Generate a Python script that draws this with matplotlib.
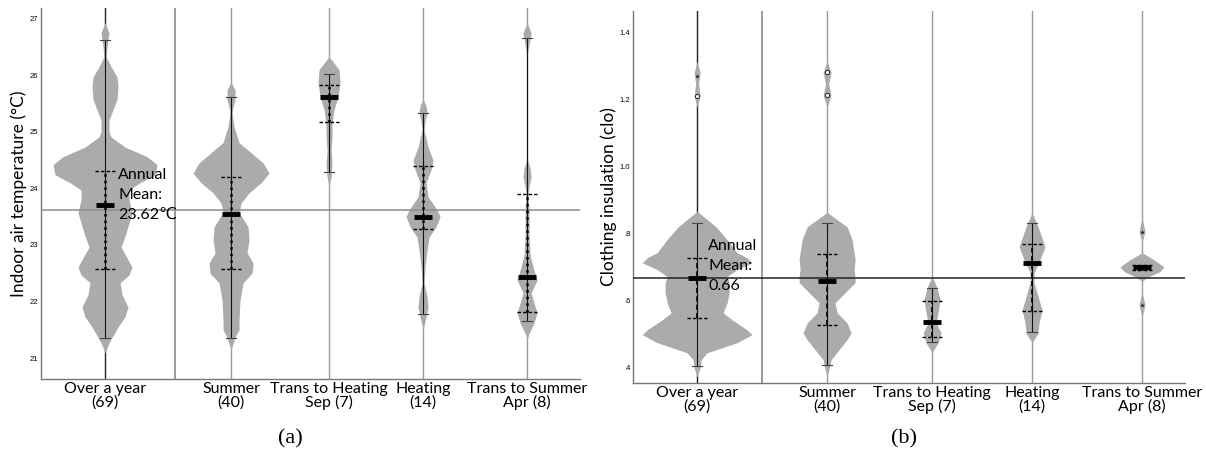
import numpy as np
import matplotlib
matplotlib.use("Agg")
import matplotlib.pyplot as plt

plt.rcParams['font.family'] = ['Lato', 'DejaVu Sans']

### Categories ###
cats = ["Over a year\n(69)", "Summer\n(40)", "Trans to Heating\nSep (7)",
        "Heating\n(14)", "Trans to Summer\nApr (8)"]
pos_a = [0, 1.26, 2.24, 3.18, 4.22]
pos_b = [0, 1.30, 2.35, 3.35, 4.45]

### (a) indoor air temperature: violin outlines (value, half width) ###
ta_over_y = [26.93, 26.75, 26.63, 26.50, 26.33, 26.15, 25.97, 25.80, 25.57, 25.39, 25.21,
             25.00, 24.91, 24.73, 24.56, 24.42, 24.24, 24.10, 23.97, 23.80, 23.57, 23.21,
             22.96, 22.77, 22.61, 22.47, 22.33, 22.12, 21.90, 21.73, 21.55, 21.27, 21.09]
ta_over_w = [0, 4, 3, 2, 1, 6, 12, 13, 12, 8, 4, 4, 6, 20, 42, 52, 50, 35, 24, 24, 27, 21,
             16, 22, 27, 24, 15, 17, 23, 20, 13, 4, 0]
ta_summer_y = [25.88, 25.74, 25.57, 25.44, 25.34, 25.09, 24.81, 24.63, 24.45, 24.27, 24.10,
               23.92, 23.74, 23.57, 23.32, 23.09, 22.86, 22.68, 22.50, 22.33, 22.03, 21.67,
               21.50, 21.37, 21.14]
ta_summer_w = [0, 4, 4, 2, 1, 3, 8, 20, 32, 38, 30, 18, 10, 8, 17, 18, 16, 22, 21, 12, 9, 8,
               8, 4, 0]
ta_theat_y = [26.33, 26.10, 25.87, 25.62, 25.39, 25.16, 24.91, 24.68, 24.45, 24.20, 24.03]
ta_theat_w = [0, 10, 11, 9, 5, 3, 3, 2, 3, 2, 0]
ta_heat_y = [25.58, 25.46, 25.34, 25.18, 25.04, 24.73, 24.50, 24.33, 24.10, 23.85, 23.62,
             23.50, 23.32, 23.14, 22.91, 22.61, 22.33, 22.08, 21.90, 21.73, 21.50]
ta_heat_w = [0, 3, 4, 2, 1, 5, 10, 8, 3, 5, 14, 17, 13, 6, 4, 2, 1, 4, 5, 3, 0]
ta_tsum_y = [26.93, 26.75, 26.63, 26.40, 24.50, 24.36, 24.20, 24.03, 23.88, 23.62, 23.14,
             22.82, 22.61, 22.38, 22.15, 21.97, 21.80, 21.62, 21.44, 21.32]
ta_tsum_w = [0, 4, 3, 0.5, 0.5, 3, 4, 2, 1, 2, 2, 3, 6, 10, 4, 7, 10, 7, 2, 0]

cap_hi_a = [26.63, 25.62, 26.03, 25.34, 26.65]
cap_lo_a = [21.35, 21.35, 24.29, 21.78, 21.65]
q3_a = [24.30, 24.20, 25.83, 24.40, 23.90]
q1_a = [22.57, 22.58, 25.18, 23.28, 21.81]
med_a = [23.70, 23.55, 25.62, 23.50, 22.43]
mean_a = 23.62

### (b) clothing insulation ###
clo_over_y = [1.313, 1.28, 1.245, 1.21, 1.176, 0.866, 0.82, 0.782, 0.743, 0.728, 0.713, 0.693,
              0.672, 0.654, 0.624, 0.594, 0.564, 0.543, 0.513, 0.499, 0.475, 0.445, 0.424,
              0.40, 0.373]
clo_over_w = [0, 3, 1.5, 3, 0, 0, 19, 30, 40, 50, 55, 40, 30, 32, 32, 30, 26, 35, 50, 55, 40,
              10, 4, 3, 0]
clo_summer_y = [1.313, 1.28, 1.245, 1.212, 1.176, 0.863, 0.82, 0.782, 0.743, 0.722, 0.693,
                0.672, 0.654, 0.624, 0.594, 0.564, 0.534, 0.504, 0.484, 0.454, 0.424, 0.409,
                0.373]
clo_summer_w = [0, 4, 1.5, 4, 0, 0, 20, 25, 27, 28, 27, 28, 28, 18, 8, 10, 20, 24, 20, 12, 4,
                3, 0]
clo_theat_y = [0.672, 0.639, 0.603, 0.564, 0.534, 0.504, 0.475, 0.445]
clo_theat_w = [0, 5, 8, 6, 4, 9, 6, 0]
clo_heat_y = [0.863, 0.82, 0.761, 0.722, 0.684, 0.654, 0.612, 0.573, 0.534, 0.504, 0.475]
clo_heat_w = [0, 6, 13, 8, 2, 2, 6, 10, 7, 6, 0]
clo_tsum_y = [0.848, 0.806, 0.773, 0.743, 0.722, 0.701, 0.687, 0.669, 0.657, 0.627, 0.588,
              0.549]
clo_tsum_w = [0, 3, 0, 0, 12, 22, 18, 5, 0, 0, 3, 0]

cap_hi_b = [0.83, 0.83, 0.639, 0.83, 0.705]
cap_lo_b = [0.406, 0.41, 0.478, 0.507, 0.69]
q3_b = [0.728, 0.74, 0.60, 0.77, 0.705]
q1_b = [0.549, 0.528, 0.493, 0.57, 0.69]
med_b = [0.669, 0.66, 0.537, 0.713, 0.70]
mean_b = 0.667

# outliers (circles) and extremes (stars)
out_x = [0, 1, 1]
out_y = [1.21, 1.28, 1.212]
ext_x = [0, 4, 4]
ext_y = [1.27, 0.806, 0.588]

fill_col = '#ababab'


def draw_panel(ax, pos, profiles, cap_hi, cap_lo, q3, q1, med, mean, mean_col,
               iqr_style, ylim, xlim, divider):
    for ii, x in enumerate(pos):
        ax.axvline(x, color='#222222' if ii == 0 else '#9a9a9a', lw=1.0, zorder=1)
    ax.axvline(divider, color='#8a8a8a', lw=1.2, zorder=1)
    for ii, (y, w) in enumerate(profiles):
        w = np.array(w) / 100.0
        ax.fill_betweenx(y, pos[ii] - w, pos[ii] + w, color=fill_col, lw=0, zorder=2)
    ax.axhline(mean, color=mean_col, lw=1.1, zorder=3)
    for ii, x in enumerate(pos):
        ax.plot([x, x], [cap_lo[ii], cap_hi[ii]], color='#111111', lw=0.8, zorder=4)
        ax.plot([x, x], [q1[ii], q3[ii]], color='black', lw=iqr_style[1],
                ls=iqr_style[0], zorder=4)
        for c in [cap_lo[ii], cap_hi[ii]]:
            ax.plot([x - 0.05, x + 0.05], [c, c], color='#444444', lw=0.8, zorder=4)
        for q in [q1[ii], q3[ii]]:
            ax.plot([x - 0.10, x + 0.10], [q, q], color='black', lw=1.0,
                    ls=(0, (2.5, 1.5)), zorder=4)
        ax.plot([x - 0.09, x + 0.09], [med[ii], med[ii]], color='black', lw=3.5,
                solid_capstyle='butt', zorder=5)
    ax.set_xlim(xlim)
    ax.set_ylim(ylim)
    ax.set_xticks(pos)
    ax.set_xticklabels(cats, fontsize=11.5, linespacing=0.95)
    ax.tick_params(axis='x', length=0, pad=2)
    ax.tick_params(axis='y', length=0, pad=2, labelsize=5.5)
    for s in ['top', 'right']:
        ax.spines[s].set_visible(False)
    for s in ['left', 'bottom']:
        ax.spines[s].set_color('#777777')
        ax.spines[s].set_linewidth(1.0)


fig = plt.figure(figsize=(12.06, 4.57), dpi=100)
ax1 = fig.add_axes([0.034, 0.1707, 0.447, 0.812])
ax2 = fig.add_axes([0.525, 0.162, 0.4576, 0.814])

prof_a = [(ta_over_y, ta_over_w), (ta_summer_y, ta_summer_w), (ta_theat_y, ta_theat_w),
          (ta_heat_y, ta_heat_w), (ta_tsum_y, ta_tsum_w)]
draw_panel(ax1, pos_a, prof_a, cap_hi_a, cap_lo_a, q3_a, q1_a, med_a, mean_a, '#8c8c8c',
           (':', 1.8), (20.63, 27.19), (-0.64, 4.75), 0.70)
ax1.set_yticks([21, 22, 23, 24, 25, 26, 27])
ax1.set_yticklabels(['21', '22', '23', '24', '25', '26', '27'], family='Liberation Sans')
ax1.set_ylabel("Indoor air temperature (°C)", fontsize=12.5, labelpad=2)
ax1.text(0.13, 24.36, "Annual\nMean:\n23.62℃", fontsize=11.5, va='top', ha='left',
         linespacing=1.55, family=['Lato', 'DejaVu Sans'], zorder=6)

prof_b = [(clo_over_y, clo_over_w), (clo_summer_y, clo_summer_w), (clo_theat_y, clo_theat_w),
          (clo_heat_y, clo_heat_w), (clo_tsum_y, clo_tsum_w)]
draw_panel(ax2, pos_b, prof_b, cap_hi_b, cap_lo_b, q3_b, q1_b, med_b, mean_b, '#222222',
           ((0, (3, 2)), 1.2), (0.355, 1.463), (-0.64, 4.88), 0.65)
ax2.set_yticks([0.4, 0.6, 0.8, 1.0, 1.2, 1.4])
ax2.set_yticklabels(['.4', '.6', '.8', '1.0', '1.2', '1.4'], family='Liberation Sans')
ax2.set_ylabel("Clothing insulation (clo)", fontsize=12.5, labelpad=2)
ax2.scatter([pos_b[i] for i in out_x], out_y, s=9, facecolor='white', edgecolor='#222222',
            lw=0.7, zorder=6)
ax2.scatter([pos_b[i] for i in ext_x], ext_y, s=6, marker='*', color='#222222', lw=0.3,
            zorder=6)
ax2.text(0.11, 0.785, "Annual\nMean:\n0.66", fontsize=11.5, va='top', ha='left',
         linespacing=1.55, zorder=6)

fig.text(0.2405, 0.03, "(a)", fontsize=16, family='Liberation Serif', ha='center')
fig.text(0.750, 0.03, "(b)", fontsize=16, family='Liberation Serif', ha='center')

fig.savefig("out.png", dpi=100)
